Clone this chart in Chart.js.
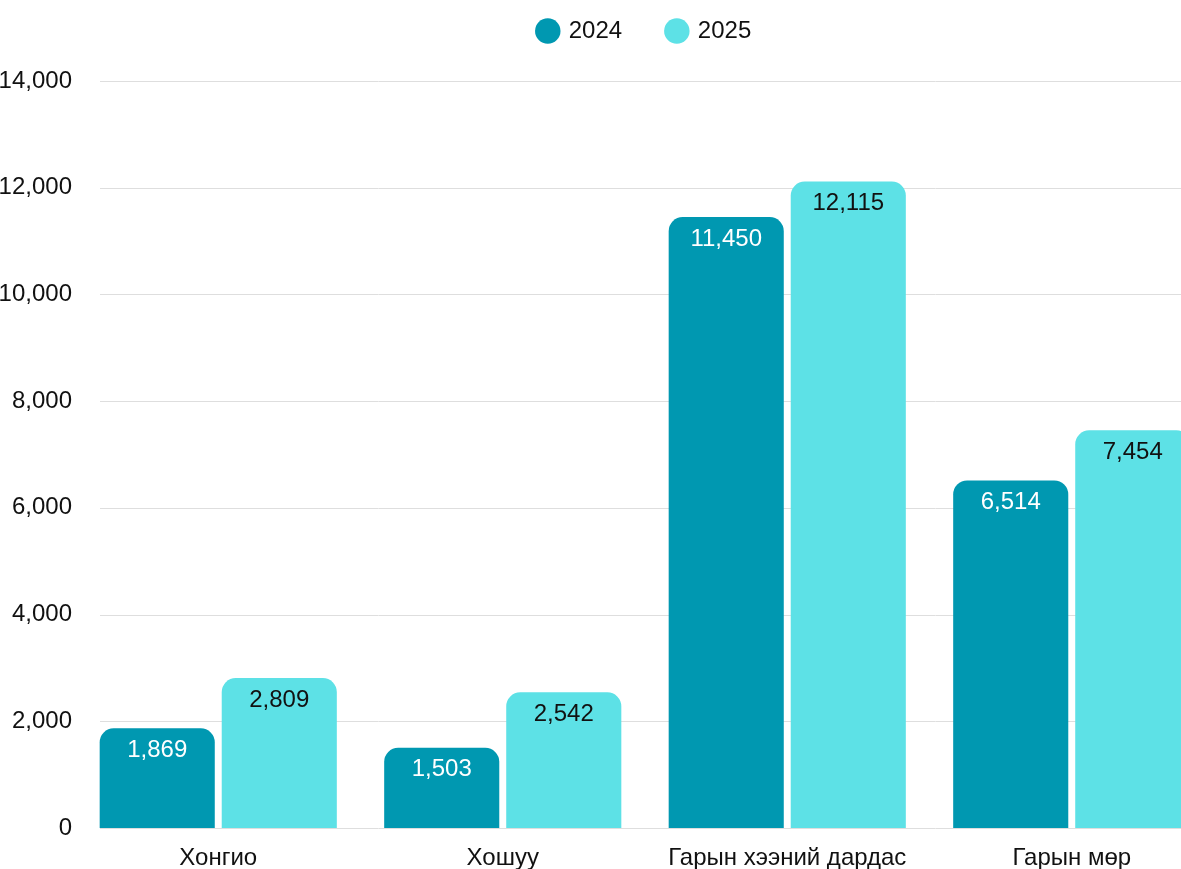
<!DOCTYPE html>
<html>
<head>
<meta charset="utf-8">
<script src="https://cdn.jsdelivr.net/npm/chart.js@4"></script>
<style>
  html, body { margin: 0; padding: 0; background: #fff; overflow: hidden; }
  #wrap { width: 1214px; height: 869px; position: relative; }
</style>
</head>
<body>
<div id="wrap"><canvas id="myChart"></canvas></div>
<script>
const categories = ['Хонгио', 'Хошуу', 'Гарын хээний дардас', 'Гарын мөр'];
const values2024 = [1869, 1503, 11450, 6514];
const values2025 = [2809, 2542, 12115, 7454];
const yTicks = [0, 2000, 4000, 6000, 8000, 10000, 12000, 14000];

const FONT = "'Liberation Sans Narrow', 'Arial Narrow', 'Liberation Sans', Arial, sans-serif";
Chart.defaults.font.family = FONT;
Chart.defaults.font.size = 24;
Chart.defaults.color = '#111';

// legend box gets a fixed height so the plot starts where it should
const legendHeight = {
    id: 'legendHeight',
    beforeInit(chart) {
        const fit = chart.legend.fit;
        chart.legend.fit = function () {
            fit.call(this);
            this.height = 81;
        };
    }
};

// gridlines that start a bit right of the axis, like the original
const gridFrom = {
    id: 'gridFrom',
    beforeDatasetsDraw(chart) {
        const {ctx, chartArea, scales} = chart;
        ctx.save();
        ctx.strokeStyle = '#dedede';
        ctx.lineWidth = 1;
        scales.y.ticks.forEach(t => {
            const y = Math.round(scales.y.getPixelForValue(t.value)) + 0.5;
            ctx.beginPath();
            ctx.moveTo(chartArea.left + 24, y);
            ctx.lineTo(chartArea.right, y);
            ctx.stroke();
        });
        ctx.restore();
    }
};

// value labels inside the top of each bar
const barLabels = {
    id: 'barLabels',
    afterDatasetsDraw(chart) {
        const {ctx} = chart;
        ctx.save();
        ctx.font = '24px ' + FONT;
        ctx.textAlign = 'center';
        ctx.textBaseline = 'middle';
        chart.data.datasets.forEach((ds, i) => {
            chart.getDatasetMeta(i).data.forEach((bar, j) => {
                ctx.fillStyle = i === 0 ? '#ffffff' : '#111111';
                ctx.fillText(ds.data[j].toLocaleString('en-US'), bar.x, bar.y + 22);
            });
        });
        ctx.restore();
    }
};

new Chart(document.getElementById('myChart'), {
    type: 'bar',
    data: {
        labels: categories,
        datasets: [{
            label: '2024',
            data: values2024,
            backgroundColor: '#0098b1',
            borderRadius: 14,
            borderSkipped: 'start',
            barPercentage: 0.943,
            categoryPercentage: 0.858
        }, {
            label: '2025',
            data: values2025,
            backgroundColor: '#5de1e6',
            borderRadius: 14,
            borderSkipped: 'start',
            barPercentage: 0.943,
            categoryPercentage: 0.858
        }]
    },
    options: {
        responsive: true,
        maintainAspectRatio: false,
        animation: false,
        layout: { padding: 0 },
        plugins: {
            legend: {
                position: 'top',
                fullSize: false,
                labels: {
                    usePointStyle: true,
                    pointStyle: 'circle',
                    boxWidth: 18,
                    boxHeight: 18,
                    padding: 19,
                    color: '#111',
                    generateLabels(chart) {
                        const items = Chart.defaults.plugins.legend.labels.generateLabels(chart);
                        items.forEach((it, i) => {
                            it.pointStyle = 'circle';
                            if (i === 0) it.text = it.text + '    ';
                        });
                        return items;
                    }
                }
            },
            tooltip: { enabled: false }
        },
        scales: {
            x: {
                afterFit(axis) { axis.height = 41; },
                grid: { display: false },
                border: { display: false },
                ticks: { padding: 8, color: '#111' }
            },
            y: {
                min: 0,
                max: 14000,
                afterBuildTicks(axis) {
                    axis.ticks = yTicks.map(v => ({ value: v }));
                },
                afterFit(axis) { axis.width = 76; },
                grid: { display: false },
                border: { display: false },
                ticks: { padding: -4, color: '#111' }
            }
        }
    },
    plugins: [legendHeight, gridFrom, barLabels]
});
</script>
</body>
</html>
